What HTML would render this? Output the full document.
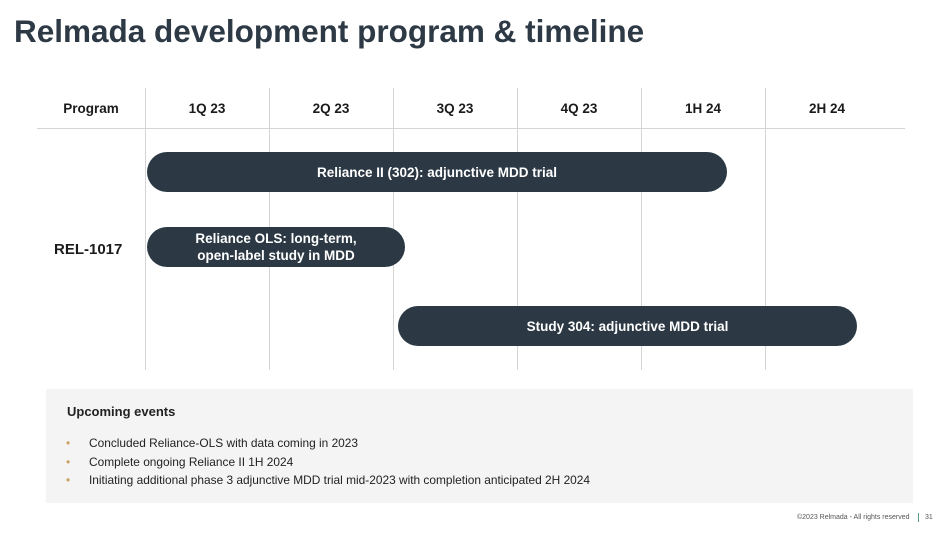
<!DOCTYPE html>
<html><head><style>
body{margin:0;width:950px;height:534px;background:#fff;position:relative;overflow:hidden;font-family:"Liberation Sans",Arial,sans-serif}
.a{position:absolute}
.v{position:absolute;top:88px;height:282px;width:1px;background:#d4d4d4}
.h{position:absolute;top:101px;font-weight:bold;font-size:13.5px;color:#1b1b1b;text-align:center;width:124px}
.bar{position:absolute;background:#2c3944;color:#fff;font-weight:bold;font-size:13.5px;border-radius:20px;display:flex;align-items:center;justify-content:center;text-align:center;line-height:17px}
.li{position:absolute;left:89px;font-size:11.9px;color:#222}
.li:before{content:"•";color:#c9a060;position:absolute;left:-23px}
</style></head><body>
<div class="a" style="left:14px;top:13px;font-size:31.5px;font-weight:bold;color:#2d3a45">Relmada development program &amp; timeline</div>
<div class="a" style="left:37px;top:128px;width:868px;height:1px;background:#d4d4d4"></div>
<div class="v" style="left:145px"></div><div class="v" style="left:269px"></div><div class="v" style="left:393px"></div><div class="v" style="left:517px"></div><div class="v" style="left:641px"></div><div class="v" style="left:765px"></div>
<div class="h" style="left:29px;width:124px">Program</div>
<div class="h" style="left:145px">1Q 23</div><div class="h" style="left:269px">2Q 23</div><div class="h" style="left:393px">3Q 23</div><div class="h" style="left:517px">4Q 23</div><div class="h" style="left:641px">1H 24</div><div class="h" style="left:765px">2H 24</div>
<div class="a" style="left:54px;top:241px;font-weight:bold;font-size:15px;color:#1b1b1b">REL-1017</div>
<div class="bar" style="left:147px;top:152px;width:580px;height:40px">Reliance II (302): adjunctive MDD trial</div>
<div class="bar" style="left:147px;top:227px;width:258px;height:40px">Reliance OLS: long-term,<br>open-label study in MDD</div>
<div class="bar" style="left:398px;top:306px;width:459px;height:40px">Study 304: adjunctive MDD trial</div>
<div class="a" style="left:46px;top:389px;width:867px;height:114px;background:#f4f4f4"></div>
<div class="a" style="left:67px;top:404px;font-size:13px;font-weight:bold;color:#222">Upcoming events</div>
<div class="li" style="top:436px">Concluded Reliance-OLS with data coming in 2023</div>
<div class="li" style="top:455px">Complete ongoing Reliance II 1H 2024</div>
<div class="li" style="top:473px">Initiating additional phase 3 adjunctive MDD trial mid-2023 with completion anticipated 2H 2024</div>
<div class="a" style="left:797px;top:514px;font-size:7px;color:#555">©2023 Relmada - All rights reserved</div>
<div class="a" style="left:918px;top:513px;width:1px;height:9px;background:#5a9a80"></div>
<div class="a" style="left:925px;top:514px;font-size:7px;color:#555">31</div>
</body></html>
